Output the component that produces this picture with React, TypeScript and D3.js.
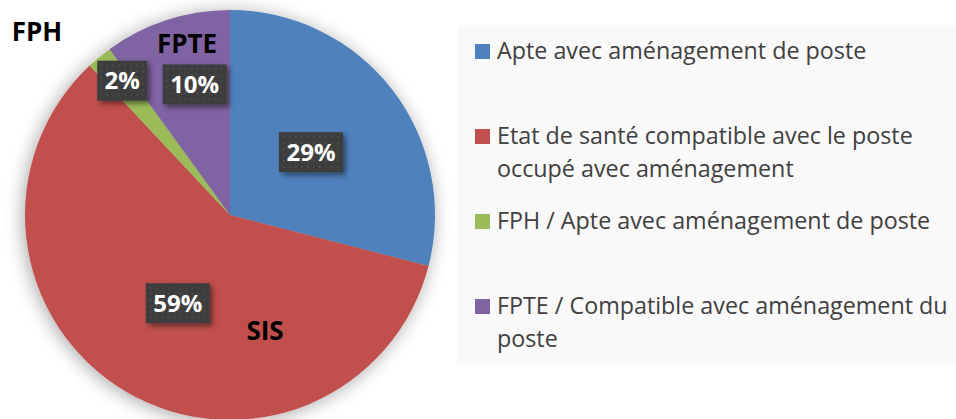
import React from "react";
import * as d3 from "d3";

const categories = [
  "Apte avec aménagement de poste",
  "Etat de santé compatible avec le poste occupé avec aménagement",
  "FPH / Apte avec aménagement de poste",
  "FPTE / Compatible avec aménagement du poste",
];
const legendLines = [
  ["Apte avec aménagement de poste"],
  ["Etat de santé compatible avec le poste", "occupé avec aménagement"],
  ["FPH / Apte avec aménagement de poste"],
  ["FPTE / Compatible avec aménagement du", "poste"],
];
const values = [29, 59, 2, 10];
const colors = ["#4F81BD", "#C0504D", "#9BBB59", "#8064A2"];
const annotations = ["FPH", "FPTE", "SIS"];

const W = 956;
const H = 419;
const cx = 230;
const cy = 215;
const R = 205;
// label radial positions (fraction of radius) per slice
const labelRadius = [0.5, 0.5, 0.84, 0.66];
const labelAngleShift = [0, 0, 0.015, 0.05];
// annotation positions (x,y centre, relative to page)
const annotationPos = [
  [37, 41],
  [187, 53],
  [265, 340],
];

export default function App() {
  const pie = d3.pie<number>().sort(null).value((d) => d)(values);
  const arc = d3.arc<d3.PieArcDatum<number>>().innerRadius(0).outerRadius(R);
  const total = d3.sum(values);
  const fmt = d3.format(".0%");
  const font = "'Open Sans', 'DejaVu Sans', sans-serif";

  return (
    <svg
      width={W}
      height={H}
      style={{ position: "absolute", left: 0, top: 0, background: "#fff" }}
      fontFamily={font}
    >
      <defs>
        <filter id="pieShadow" x="-20%" y="-20%" width="140%" height="140%">
          <feDropShadow dx="-2" dy="2" stdDeviation="9" floodColor="#000" floodOpacity="0.35" />
        </filter>
        <filter id="boxShadow" x="-30%" y="-30%" width="160%" height="160%">
          <feDropShadow dx="3" dy="3" stdDeviation="2.5" floodColor="#000" floodOpacity="0.45" />
        </filter>
        <pattern id="dots" width="6" height="6" patternUnits="userSpaceOnUse">
          <rect width="6" height="6" fill="#3d3d3d" />
          <rect x="2" y="2" width="1.5" height="1.5" fill="#555" />
        </pattern>
      </defs>

      {/* legend panel */}
      <rect x={457} y={25} width={W - 457} height={340} fill="#f9f9f9" />

      <g filter="url(#pieShadow)">
        <g transform={`translate(${cx},${cy})`}>
          {pie.map((p, i) => (
            <path key={i} d={arc(p) || ""} fill={colors[i]} />
          ))}
        </g>
      </g>

      {/* data labels */}
      <g transform={`translate(${cx},${cy})`}>
        {pie.map((p, i) => {
          const a = (p.startAngle + p.endAngle) / 2 + labelAngleShift[i];
          const r = R * labelRadius[i];
          const x = Math.sin(a) * r;
          const y = -Math.cos(a) * r;
          const txt = fmt(values[i] / total);
          const bw = txt.length === 2 ? 50 : 64;
          const bh = 40;
          return (
            <g key={i} transform={`translate(${x},${y})`}>
              <rect
                x={-bw / 2}
                y={-bh / 2}
                width={bw}
                height={bh}
                fill="url(#dots)"
                filter="url(#boxShadow)"
              />
              <text
                x={0}
                y={8.5}
                textAnchor="middle"
                fill="#fff"
                fontWeight="bold"
                fontSize={24}
              >
                {txt}
              </text>
            </g>
          );
        })}
      </g>

      {annotations.map((t, i) => (
        <text
          key={t}
          x={annotationPos[i][0]}
          y={annotationPos[i][1]}
          textAnchor="middle"
          fontWeight="bold"
          fontSize={26}
          fill="#000"
        >
          {t}
        </text>
      ))}

      {/* legend */}
      {categories.map((c, i) => {
        const base = 59 + i * 85;
        return (
          <g key={c}>
            <rect x={475} y={base - 15} width={15} height={15} fill={colors[i]} />
            {legendLines[i].map((l, j) => (
              <text key={j} x={497} y={base + j * 33} fontSize={23.3} fill="#404040">
                {l}
              </text>
            ))}
          </g>
        );
      })}
    </svg>
  );
}
